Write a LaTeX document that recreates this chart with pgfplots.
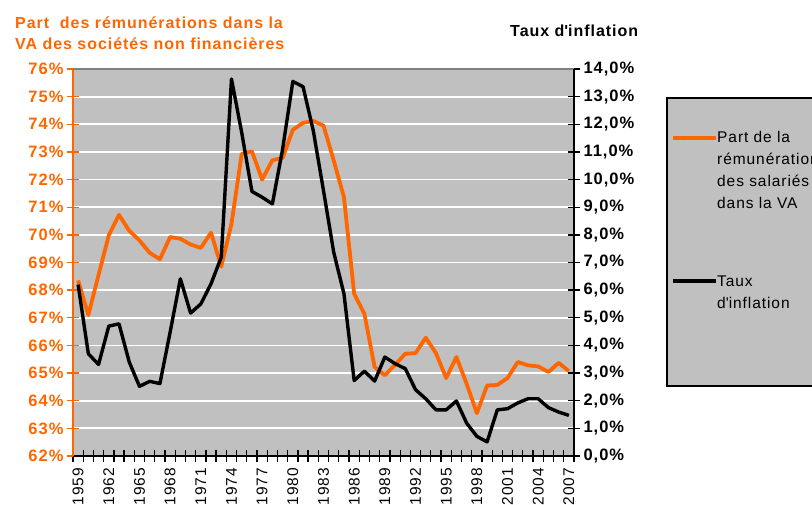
\documentclass[border=0pt]{standalone}
\usepackage{fontspec}
\setmainfont{Liberation Sans}
\newfontfamily\spfont[LetterSpace=6]{Liberation Sans}
\usepackage{pgfplots}
\pgfplotsset{compat=1.18}
\definecolor{vaorange}{RGB}{255,102,0}
\definecolor{plotgray}{RGB}{192,192,192}
\definecolor{bordergray}{RGB}{128,128,128}

\pgfplotstableread{
year part
1959 68.35
1960 67.10
1961 68.55
1962 69.98
1963 70.72
1964 70.15
1965 69.80
1966 69.35
1967 69.12
1968 69.92
1969 69.86
1970 69.65
1971 69.53
1972 70.08
1973 68.85
1974 70.40
1975 72.93
1976 73.02
1977 72.00
1978 72.70
1979 72.78
1980 73.80
1981 74.05
1982 74.12
1983 73.95
1984 72.69
1985 71.36
1986 67.87
1987 67.14
1988 65.22
1989 64.92
1990 65.30
1991 65.70
1992 65.72
1993 66.28
1994 65.72
1995 64.82
1996 65.58
1997 64.61
1998 63.55
1999 64.55
2000 64.57
2001 64.82
2002 65.40
2003 65.28
2004 65.24
2005 65.04
2006 65.37
2007 65.07
}\partdata

\pgfplotstableread{
year infl
1959 6.20
1960 3.70
1961 3.31
1962 4.70
1963 4.78
1964 3.40
1965 2.52
1966 2.70
1967 2.62
1968 4.48
1969 6.41
1970 5.17
1971 5.50
1972 6.23
1973 7.19
1974 13.64
1975 11.70
1976 9.57
1977 9.36
1978 9.12
1979 11.10
1980 13.55
1981 13.36
1982 11.77
1983 9.60
1984 7.37
1985 5.87
1986 2.73
1987 3.07
1988 2.71
1989 3.58
1990 3.34
1991 3.16
1992 2.40
1993 2.07
1994 1.67
1995 1.67
1996 1.99
1997 1.19
1998 0.71
1999 0.51
2000 1.67
2001 1.71
2002 1.92
2003 2.07
2004 2.07
2005 1.75
2006 1.59
2007 1.47
}\infldata

\begin{document}
\begin{tikzpicture}[x=1pt,y=1pt]
\path[use as bounding box] (0,0) rectangle (812,-505);
\clip (0,0) rectangle (812,-505);

\begin{axis}[
  at={(73pt,-456pt)}, anchor=south west,
  scale only axis, width=501pt, height=387pt,
  xmin=1958.5, xmax=2007.5, ymin=62, ymax=76,
  axis background/.style={fill=plotgray},
  axis y line*=left, axis x line*=bottom,
  x axis line style={black, line width=1.5pt},
  y axis line style={vaorange, line width=1.5pt},
  tick align=center,
  major tick length=12pt, minor tick length=12pt,
  ytick={62,63,...,76},
  yticklabel={\pgfmathprintnumber{\tick}\%},
  ytick style={vaorange, line width=1.3pt},
  yticklabel style={text=vaorange, font=\spfont\bfseries\fontsize{16.5}{18}\selectfont},
  xtick={1959,1962,...,2007},
  major x tick style={draw=none},
  minor xtick={1958.5,1959.5,...,2007.5},
  minor x tick style={black, line width=1.3pt},
  xticklabel style={rotate=90, anchor=east, xshift=-2.5pt, font=\spfont\fontsize{15.5}{18}\selectfont, black},
  /pgf/number format/1000 sep={},
  /pgf/number format/assume math mode=true,
  ymajorgrids, grid style={white, line width=1.8pt},
]
\addplot[vaorange, line width=3.8pt, line join=round] table[x=year, y=part] {\partdata};
\end{axis}

\begin{axis}[
  at={(73pt,-456pt)}, anchor=south west,
  scale only axis, width=501pt, height=387pt,
  xmin=1958.5, xmax=2007.5, ymin=0, ymax=14,
  axis y line*=right, axis x line*=top,
  x axis line style={bordergray, line width=1.5pt},
  y axis line style={black, line width=1.5pt},
  xtick=\empty,
  tick align=center, major tick length=12pt,
  ytick={0,1,...,14},
  ytick style={black, line width=1.3pt},
  yticklabel={\pgfmathprintnumber[fixed,fixed zerofill,precision=1,use comma]{\tick}\%},
  yticklabel style={text=black, font=\spfont\bfseries\fontsize{16.5}{18}\selectfont},
  /pgf/number format/assume math mode=true,
]
\addplot[black, line width=3.4pt, line join=round] table[x=year, y=infl] {\infldata};
\end{axis}

% titles
\node[anchor=base west, text=vaorange, font=\spfont\bfseries\fontsize{16}{18}\selectfont, inner sep=0pt] at (15,-28.5) {Part\ \ des rémunérations dans la};
\node[anchor=base west, text=vaorange, font=\spfont\bfseries\fontsize{16}{18}\selectfont, inner sep=0pt] at (15,-50) {VA des sociétés non financières};
\node[anchor=base west, text=black, font=\spfont\bfseries\fontsize{16}{18}\selectfont, inner sep=0pt] at (510,-36.5) {Taux d\textquotesingle inflation};

% legend
\draw[fill=plotgray, draw=black, line width=1.5pt] (667,-98) rectangle (840,-386);
\draw[vaorange, line width=3.8pt] (673,-138) -- (716,-138);
\draw[black, line width=3.8pt] (673,-281) -- (716,-281);
\begin{scope}[every node/.style={anchor=base west, inner sep=0pt, font=\spfont\fontsize{15.5}{17}\selectfont}]
\node at (717,-142.5) {Part de la};
\node at (717,-164.5) {rémunération};
\node at (717,-186.5) {des salariés};
\node at (717,-208.5) {dans la VA};
\node at (717,-286.5) {Taux};
\node at (717,-308.5) {d\textquotesingle inflation};
\end{scope}
\end{tikzpicture}
\end{document}
